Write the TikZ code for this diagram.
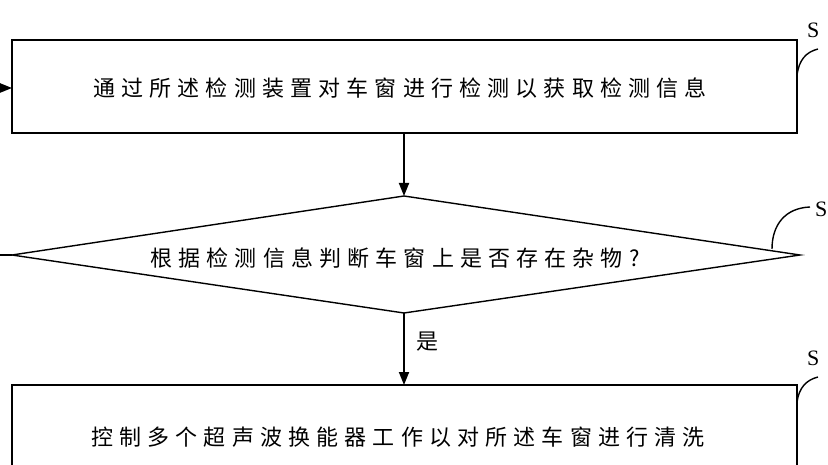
\documentclass[tikz,border=0pt]{standalone}
\usepackage{fontspec}
\usetikzlibrary{arrows.meta,shapes.geometric}
\newfontfamily\cjk[LetterSpace=28]{Noto Sans CJK SC}
\newfontfamily\lab{Liberation Serif}
\begin{document}
\begin{tikzpicture}[x=1pt,y=-1pt,
  box/.style={draw,line width=1.4pt},
  txt/.style={font=\cjk\fontsize{22}{24}\selectfont,inner sep=0},
  arr/.style={-{Triangle[length=13pt,width=10pt]},line width=1.8pt},
  lbl/.style={font=\lab\fontsize{22}{24}\selectfont,inner sep=0,anchor=west}]
\useasboundingbox (0,0) rectangle (828,465);
\draw[box] (12,40) rectangle (797,133);
\node[txt] (t1) at (400,88) {通过所述检测装置对车窗进行检测以获取检测信息};
\coordinate (b1) at (404,133);
\coordinate (b1l) at (12,88);
\coordinate (d1t) at (404,196);
\coordinate (d1b) at (404,313);
\coordinate (d1l) at (12,255);
\coordinate (d1r) at (800,255);
\draw[box] (d1l) -- (d1t) -- (d1r) -- (d1b) -- cycle;
\node[txt] (t2) at (395,258) {根据检测信息判断车窗上是否存在杂物?};
\draw[box] (12,385) rectangle (797,480);
\coordinate (b3) at (404,385);
\node[txt] (t3) at (398,437) {控制多个超声波换能器工作以对所述车窗进行清洗};
\coordinate (lin) at (0,88);
\coordinate (lout) at (0,255);
\draw[arr] (lin) -- (b1l);
\draw[line width=1.4pt] (d1l) -- (lout);
\draw[arr] (b1) -- (d1t);
\draw[arr] (d1b) -- (b3);
\node[txt,anchor=west] (yes) at (416,342) {是};
\node[lbl] (s1) at (807,30) {S};
\node[lbl] (s2) at (815,209) {S};
\node[lbl] (s3) at (807,358) {S};
\draw[line width=1.4pt] (797,75) .. controls (799,60) and (806,52) .. (818,49);
\draw[line width=1.4pt] (772,249) .. controls (772,225) and (785,208) .. (810,207);
\draw[line width=1.4pt] (797,402) .. controls (799,388) and (806,380) .. (818,377);
\end{tikzpicture}
\end{document}
